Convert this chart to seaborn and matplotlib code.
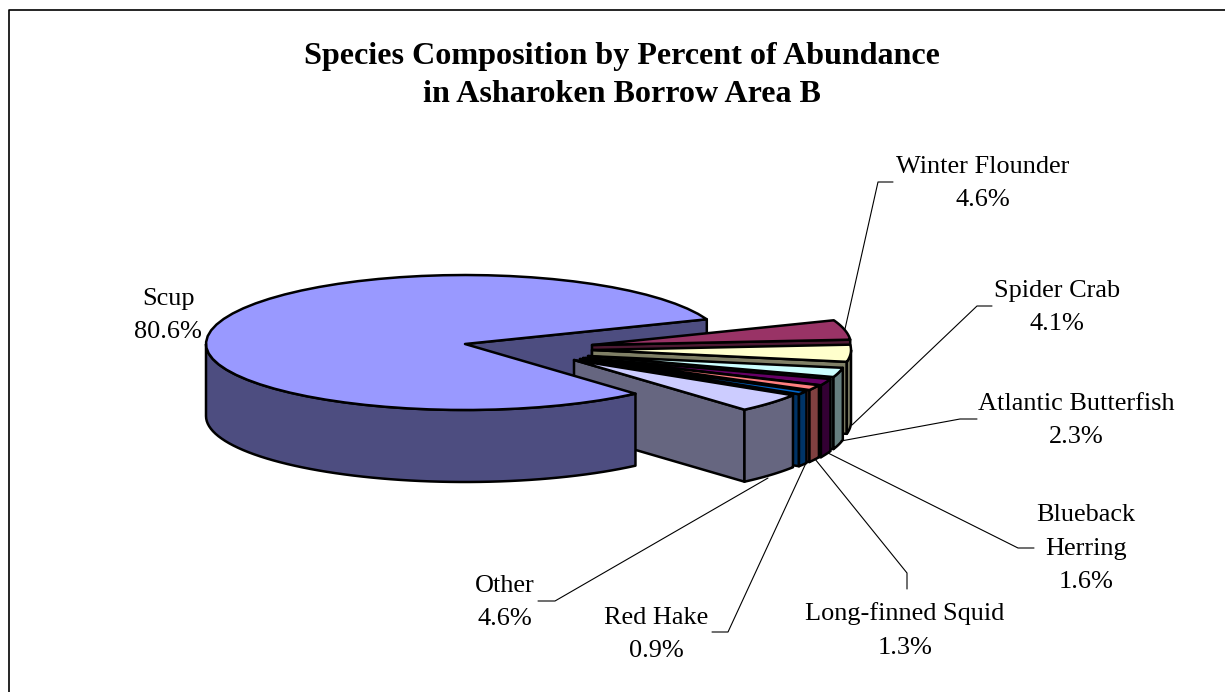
import numpy as np
import pandas as pd
import matplotlib
matplotlib.use("Agg")
import matplotlib.pyplot as plt
import seaborn as sns

species = ["Winter Flounder", "Spider Crab", "Atlantic Butterfish", "Blueback\nHerring",
           "Long-finned Squid", "Red Hake", "Other", "Scup"]
percent = [4.6, 4.1, 2.3, 1.6, 1.3, 0.9, 4.6, 80.6]
top_colors = ["#993366", "#FFFFCC", "#CCFFFF", "#660066", "#FF8080", "#0066CC", "#CCCCFF", "#9999FF"]
wall_colors = ["#4D1A33", "#808066", "#668080", "#330033", "#804040", "#003366", "#666680", "#4D4D80"]

df = pd.DataFrame({"species": species, "percent": percent, "top": top_colors, "wall": wall_colors})
df["sweep"] = df["percent"] * 3.6

sns.set_theme(style="white")
plt.rcParams["font.family"] = ["Liberation Serif", "DejaVu Serif"]

# pie geometry in pixels, the near half of the ellipse is a bit flatter
RX, RY_BACK, RY_FRONT, DEPTH = 259, 69, 66, 72
START = 21
LW = 1.8
tips = [(592, 345), (592, 350), (588, 356), (585, 358), (583, 358), (580, 359), (574, 360), (465, 344)]

label_pos = [(983, 183.5), (1057, 307.5), (1076, 420.5), (1086, 548.5), (905, 630.5), (656, 634.5), (505, 602.5), (168, 315.5)]
leaders = [
    [(845, 329), (878, 182), (893, 182)],
    [(852, 425), (977, 306), (992, 306)],
    [(841, 441), (960, 419), (977, 419)],
    [(828, 453), (1018, 548), (1034, 548)],
    [(815, 459), (907, 573), (907, 589)],
    [(806, 463), (728, 632), (712, 632)],
    [(768, 478), (555, 601), (538, 601)],
]


def rim(tip, a, b, n=60):
    t = np.radians(np.linspace(a, b, n))
    ry = np.where(np.sin(t) > 0, RY_BACK, RY_FRONT)
    return tip[0] + RX * np.cos(t), tip[1] - ry * np.sin(t)


def draw_top(tip, hi, lo, color):
    x, y = rim(tip, hi, lo)
    ax.fill(np.r_[tip[0], x], np.r_[tip[1], y], facecolor=color, edgecolor="black", lw=LW, joinstyle="round")


def draw_side(tip, a, color):
    x, y = rim(tip, a, a, 1)
    xs = [tip[0], x[0], x[0], tip[0]]
    ys = [tip[1], y[0], y[0] + DEPTH, tip[1] + DEPTH]
    ax.fill(xs, ys, facecolor=color, edgecolor="black", lw=LW, joinstyle="round")


def draw_outer(tip, hi, lo, color):
    hi = min(hi, 0)
    if hi <= lo:
        return
    x, y = rim(tip, hi, lo)
    ax.fill(np.r_[x, x[::-1]], np.r_[y, y[::-1] + DEPTH], facecolor=color, edgecolor="black", lw=LW, joinstyle="round")


fig = plt.figure(figsize=(12.25, 6.92), dpi=100)
ax = fig.add_axes([0, 0, 1, 1])
ax.set_xlim(0, 1225)
ax.set_ylim(692, 0)
ax.axis("off")

# frame, only top and left fall inside the picture
ax.plot([8.5, 8.5, 1225], [692, 10, 10], color="black", lw=1.2)

# wedge angles run clockwise from START, Scup takes what is left
ends = START - df["sweep"].cumsum()
starts = ends + df["sweep"]

scup = df.index[-1]
draw_side(tips[scup], START, df.loc[scup, "wall"])

for i in df.index[:-1]:
    draw_side(tips[i], ends[i], df.loc[i, "wall"])
    draw_outer(tips[i], starts[i], ends[i], df.loc[i, "wall"])
    draw_top(tips[i], starts[i], ends[i], df.loc[i, "top"])

draw_outer(tips[scup], starts[scup], -180, df.loc[scup, "wall"])
draw_top(tips[scup], starts[scup], ends[scup], df.loc[scup, "top"])

for pts in leaders:
    xs, ys = zip(*pts)
    ax.plot(xs, ys, color="black", lw=0.8)

for i in df.index:
    text = f"{df.loc[i, 'species']}\n{df.loc[i, 'percent']:.1f}%"
    ax.text(label_pos[i][0], label_pos[i][1], text, ha="center", va="center",
            fontsize=18.9, color="black", linespacing=1.68)

ax.text(622, 75.5, "Species Composition by Percent of Abundance\nin Asharoken Borrow Area B",
        ha="center", va="center", fontsize=23.1, fontweight="bold", color="black", linespacing=1.45)

fig.savefig("out.png", dpi=100)
